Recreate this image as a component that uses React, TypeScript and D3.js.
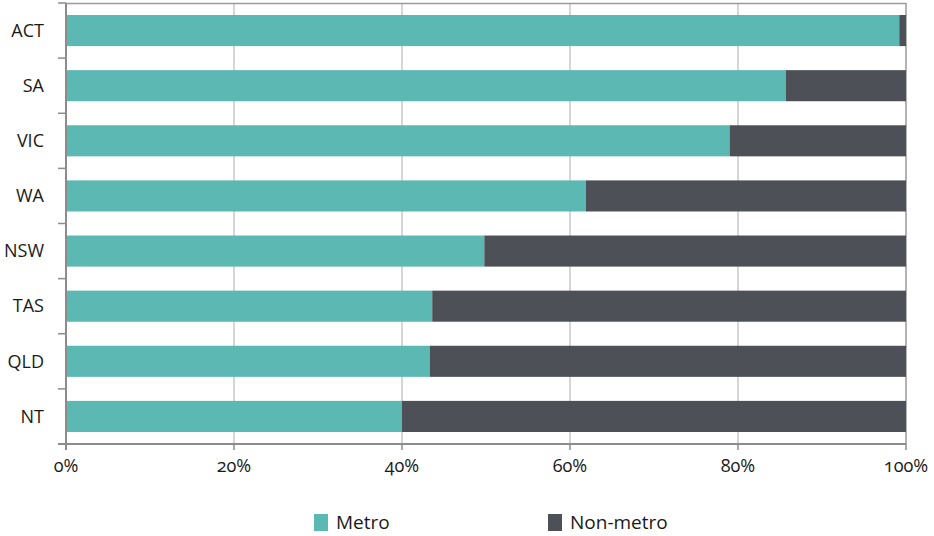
import React from "react";
import * as d3 from "d3";

const categories = ["ACT", "SA", "VIC", "WA", "NSW", "TAS", "QLD", "NT"];
const metro = [99.2, 85.7, 79.0, 61.9, 49.8, 43.6, 43.3, 40.0];
const nonMetro = metro.map((v) => 100 - v);
const ticks = [0, 20, 40, 60, 80, 100];
const seriesNames = ["Metro", "Non-metro"];
const colors = ["#5cb8b2", "#4d5056"];

const W = 934;
const H = 536;
const m = { left: 66, right: 28, top: 3, bottom: 92 };
const FONT = "'Open Sans', 'Noto Sans', sans-serif";

export default function App() {
  const x = d3.scaleLinear().domain([0, 100]).range([m.left, W - m.right]);
  const y = d3
    .scaleBand<string>()
    .domain(categories)
    .range([m.top, H - m.bottom])
    .paddingInner(0.436)
    .paddingOuter(0.218);
  const step = y.step();
  const y0 = m.top;
  const y1 = H - m.bottom;
  const stacked = categories.map((c, i) => ({ c, vals: [metro[i], nonMetro[i]] }));

  return (
    <svg width={W} height={H} style={{ position: "absolute", left: 0, top: 0, fontFamily: FONT, fontVariantNumeric: "oldstyle-nums" }}>
      <rect width={W} height={H} fill="#fff" />
      {ticks.slice(1).map((t) => (
        <line key={t} x1={x(t)} x2={x(t)} y1={y0} y2={y1} stroke={t === 100 ? "#9a9a9a" : "#c8c8c8"} strokeWidth={t === 100 ? 1.5 : 1.5} />
      ))}
      <line x1={x(0)} x2={x(100)} y1={y0 + 0.5} y2={y0 + 0.5} stroke="#9a9a9a" strokeWidth={1.5} />
      {stacked.map((d) => {
        let acc = 0;
        return d.vals.map((v, k) => {
          const xs = x(acc);
          acc += v;
          return (
            <rect key={d.c + k} x={xs} y={y(d.c)!} width={x(acc) - xs} height={y.bandwidth()} fill={colors[k]} />
          );
        });
      })}
      <line x1={m.left} x2={m.left} y1={y0} y2={y1 + 6} stroke="#8c8c8c" strokeWidth={2} />
      <line x1={m.left - 8} x2={x(100)} y1={y1} y2={y1} stroke="#8c8c8c" strokeWidth={2} />
      {d3.range(categories.length + 1).map((i) => (
        <line key={"yt" + i} x1={m.left - 8} x2={m.left} y1={y0 + i * step} y2={y0 + i * step} stroke="#8c8c8c" strokeWidth={1.5} />
      ))}
      {ticks.map((t) => (
        <line key={"xt" + t} x1={x(t)} x2={x(t)} y1={y1} y2={y1 + 6} stroke="#8c8c8c" strokeWidth={1.5} />
      ))}
      {categories.map((c) => (
        <text key={"l" + c} x={44} y={y(c)! + y.bandwidth() / 2} dy="0.35em" textAnchor="end" fontSize={18} fill="#1a1a1a">
          {c}
        </text>
      ))}
      {ticks.map((t) => (
        <text key={"tl" + t} x={x(t)} y={472} textAnchor="middle" fontSize={18} fill="#1a1a1a">
          {t + "%"}
        </text>
      ))}
      {seriesNames.map((s, k) => (
        <g key={s} transform={`translate(${[314, 548][k]},514)`}>
          <rect x={0} y={0} width={14} height={17} fill={colors[k]} />
          <text x={22} y={15} fontSize={19} fill="#1a1a1a">
            {s}
          </text>
        </g>
      ))}
    </svg>
  );
}
